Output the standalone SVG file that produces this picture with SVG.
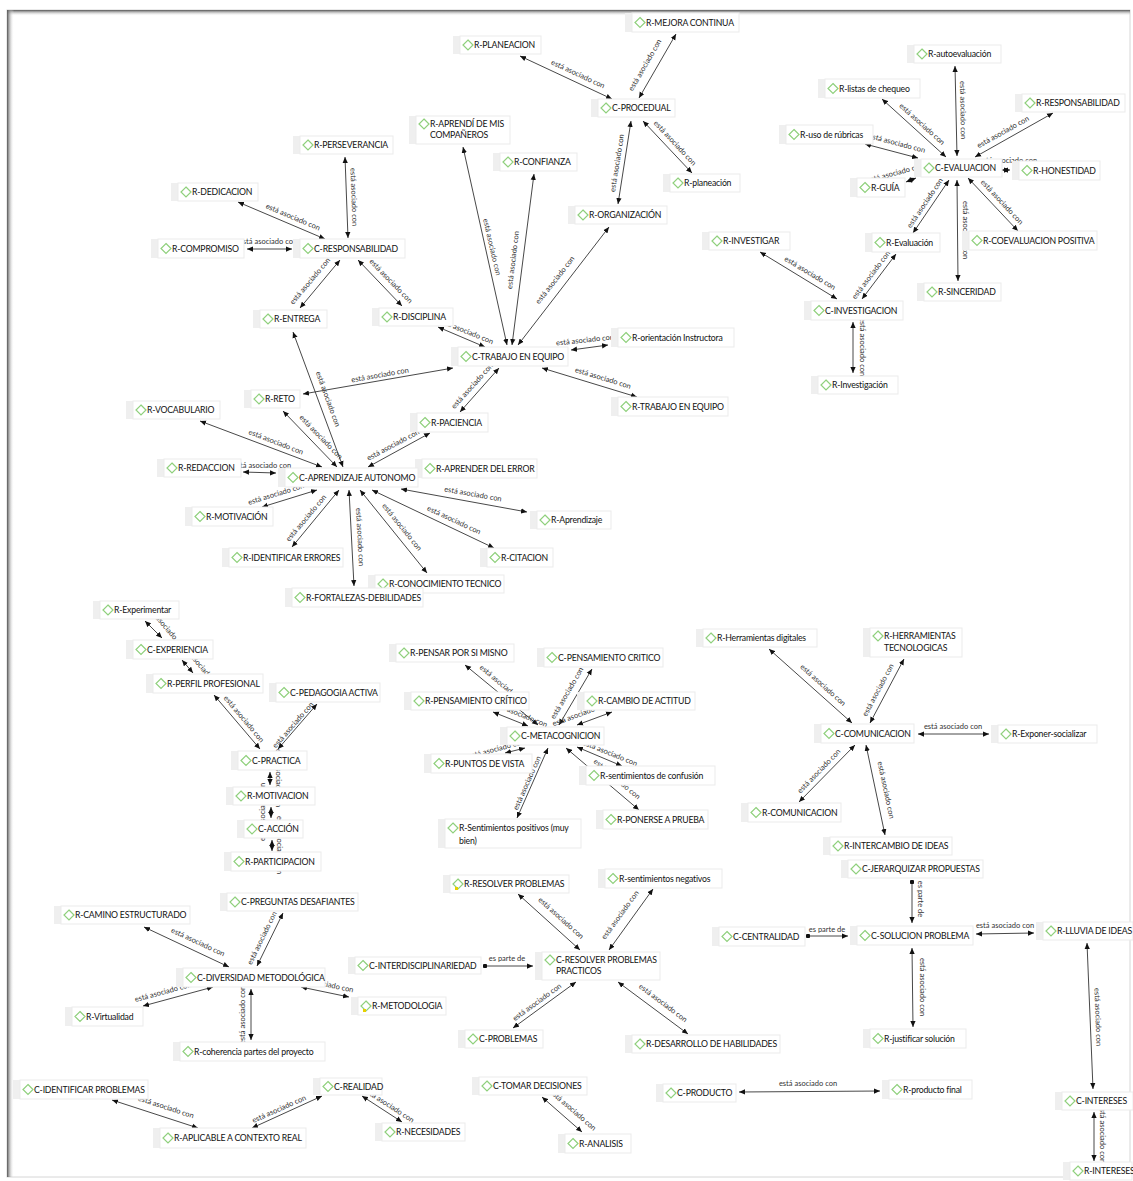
<svg xmlns="http://www.w3.org/2000/svg" xmlns:xlink="http://www.w3.org/1999/xlink" width="1133" height="1181" viewBox="0 0 1133 1181">
<defs>
<linearGradient id="gt" x1="0" y1="0" x2="0" y2="1"><stop offset="0" stop-color="#555"/><stop offset="1" stop-color="#fff" stop-opacity="0"/></linearGradient>
<linearGradient id="gl" x1="0" y1="0" x2="1" y2="0"><stop offset="0" stop-color="#555"/><stop offset="1" stop-color="#fff" stop-opacity="0"/></linearGradient>
<marker id="a" viewBox="0 0 8 8" refX="8" refY="4" markerWidth="6" markerHeight="6" markerUnits="userSpaceOnUse" orient="auto-start-reverse"><path d="M0,0.5 L8,4 L0,7.5 Z" fill="#111"/></marker>
<marker id="o" viewBox="0 0 6 6" refX="3" refY="3" markerWidth="4.5" markerHeight="4.5" markerUnits="userSpaceOnUse"><circle cx="3" cy="3" r="3" fill="#111"/></marker>
<path id="d" d="M0,-5 L5,0 L0,5 L-5,0 Z" fill="#fff" stroke="#8fd07c" stroke-width="1.2"/>
</defs>
<style>
.s{fill:#efefef}
.b{fill:#fff;stroke:#ebebeb;stroke-width:1}
.node text{font-family:Lato,"Open Sans",sans-serif;font-size:8.7px;letter-spacing:-0.2px;fill:#111}
.c{stroke:#333;stroke-width:0.9;fill:none;marker-start:url(#a);marker-end:url(#a)}
.p{stroke:#333;stroke-width:0.9;fill:none;marker-start:url(#o);marker-end:url(#a)}
.l{font-family:Lato,"Open Sans",sans-serif;font-size:7.5px;fill:#333;text-anchor:middle;dominant-baseline:central}
.y{fill:#e8d000}
</style>
<rect width="1133" height="1181" fill="#fff"/>
<g id="frame">
<rect x="7" y="10" width="1123" height="1167" fill="#fff" stroke="#d6d6d6"/>
<rect x="7" y="10" width="1123" height="6" fill="url(#gt)"/>
<rect x="7" y="10" width="7" height="1167" fill="url(#gl)"/>
</g>
<g id="connectors">
<line class="c" x1="520" y1="56" x2="612" y2="99"/><text class="l" transform="translate(578,74) rotate(25)">está asociado con</text>
<line class="c" x1="676" y1="34" x2="639" y2="98"/><text class="l" transform="translate(645,65) rotate(-60)">está asociado con</text>
<line class="c" x1="631" y1="121" x2="618" y2="204"/><text class="l" transform="translate(617,163) rotate(-81)">está asociado con</text>
<line class="c" x1="643" y1="121" x2="692" y2="173"/><text class="l" transform="translate(675,143) rotate(47)">está asociado con</text>
<line class="c" x1="463" y1="147" x2="507" y2="345"/><text class="l" transform="translate(492,247) rotate(77)">está asociado con</text>
<line class="c" x1="534" y1="174" x2="512" y2="345"/><text class="l" transform="translate(513,260) rotate(-83)">está asociado con</text>
<line class="c" x1="609" y1="227" x2="518" y2="345"/><text class="l" transform="translate(555,280) rotate(-52)">está asociado con</text>
<line class="c" x1="345" y1="157" x2="348" y2="238"/><text class="l" transform="translate(354,197) rotate(88)">está asociado con</text>
<line class="c" x1="238" y1="202" x2="325" y2="239"/><text class="l" transform="translate(293,217) rotate(23)">está asociado con</text>
<line class="c" x1="247" y1="249" x2="292" y2="249"/><text class="l" transform="translate(268,241)">está asociado con</text>
<line class="c" x1="340" y1="260" x2="300" y2="308"/><text class="l" transform="translate(310,281) rotate(-50)">está asociado con</text>
<line class="c" x1="358" y1="260" x2="402" y2="306"/><text class="l" transform="translate(391,281) rotate(46)">está asociado con</text>
<line class="c" x1="438" y1="327" x2="485" y2="347"/><text class="l" transform="translate(466,331) rotate(22)">está asociado con</text>
<line class="c" x1="293" y1="332" x2="343" y2="467"/><text class="l" transform="translate(328,399) rotate(70)">está asociado con</text>
<line class="c" x1="453" y1="368" x2="303" y2="394"/><text class="l" transform="translate(380,375) rotate(-10)">está asociado con</text>
<line class="c" x1="499" y1="368" x2="460" y2="412"/><text class="l" transform="translate(472,386) rotate(-48)">está asociado con</text>
<line class="c" x1="571" y1="350" x2="608" y2="345"/><text class="l" transform="translate(585,340) rotate(-6)">está asociado con</text>
<line class="c" x1="542" y1="368" x2="637" y2="397"/><text class="l" transform="translate(603,378) rotate(17)">está asociado con</text>
<line class="c" x1="283" y1="411" x2="337" y2="467"/><text class="l" transform="translate(321,437) rotate(46)">está asociado con</text>
<line class="c" x1="200" y1="421" x2="322" y2="467"/><text class="l" transform="translate(276,442) rotate(21)">está asociado con</text>
<line class="c" x1="243" y1="472" x2="276" y2="473"/><text class="l" transform="translate(262,465)">está asociado con</text>
<line class="c" x1="368" y1="467" x2="430" y2="433"/><text class="l" transform="translate(393,445) rotate(-28)">está asociado con</text>
<line class="c" x1="262" y1="507" x2="317" y2="490"/><text class="l" transform="translate(276,494) rotate(-17)">está asociado con</text>
<line class="c" x1="292" y1="547" x2="339" y2="490"/><text class="l" transform="translate(306,518) rotate(-50)">está asociado con</text>
<line class="c" x1="349" y1="490" x2="354" y2="586"/><text class="l" transform="translate(360,537) rotate(87)">está asociado con</text>
<line class="c" x1="360" y1="490" x2="427" y2="573"/><text class="l" transform="translate(402,527) rotate(51)">está asociado con</text>
<line class="c" x1="372" y1="490" x2="494" y2="548"/><text class="l" transform="translate(454,520) rotate(25)">está asociado con</text>
<line class="c" x1="401" y1="489" x2="527" y2="512"/><text class="l" transform="translate(473,494) rotate(10)">está asociado con</text>
<line class="c" x1="955" y1="66" x2="957" y2="156"/><text class="l" transform="translate(963,110) rotate(89)">está asociado con</text>
<line class="c" x1="882" y1="99" x2="946" y2="157"/><text class="l" transform="translate(922,124) rotate(42)">está asociado con</text>
<line class="c" x1="1053" y1="113" x2="975" y2="157"/><text class="l" transform="translate(1003,132) rotate(-29)">está asociado con</text>
<line class="c" x1="865" y1="144" x2="918" y2="158"/><text class="l" transform="translate(897,143) rotate(15)">está asociado con</text>
<line class="c" x1="1002" y1="170" x2="1010" y2="170"/><text class="l" transform="translate(1008,160)">está asociado con</text>
<line class="c" x1="906" y1="182" x2="916" y2="178"/><text class="l" transform="translate(895,173) rotate(-15)">está asociado con</text>
<line class="c" x1="949" y1="180" x2="913" y2="233"/><text class="l" transform="translate(925,203) rotate(-56)">está asociado con</text>
<line class="c" x1="957" y1="180" x2="958" y2="281"/><text class="l" transform="translate(965,230) rotate(90)">está asociado con</text>
<line class="c" x1="968" y1="178" x2="1018" y2="231"/><text class="l" transform="translate(1002,202) rotate(47)">está asociado con</text>
<line class="c" x1="760" y1="252" x2="837" y2="299"/><text class="l" transform="translate(810,273) rotate(31)">está asociado con</text>
<line class="c" x1="896" y1="254" x2="862" y2="299"/><text class="l" transform="translate(871,275) rotate(-53)">está asociado con</text>
<line class="c" x1="853" y1="322" x2="853" y2="373"/><text class="l" transform="translate(862,347) rotate(90)">está asociado con</text>
<line class="c" x1="145" y1="621" x2="162" y2="638"/><text class="l" transform="translate(166,627) rotate(50)">está asociado con</text>
<line class="c" x1="182" y1="660" x2="193" y2="673"/><text class="l" transform="translate(201,666) rotate(50)">está asociado con</text>
<line class="c" x1="214" y1="695" x2="260" y2="749"/><text class="l" transform="translate(244,719) rotate(50)">está asociado con</text>
<line class="c" x1="317" y1="704" x2="278" y2="749"/><text class="l" transform="translate(293,725) rotate(-49)">está asociado con</text>
<line class="c" x1="270" y1="772" x2="270" y2="785"/><text class="l" transform="translate(278,778) rotate(90)">está asociado con</text>
<line class="c" x1="271" y1="807" x2="271" y2="818"/><text class="l" transform="translate(262,812) rotate(-90)">está asociado con</text>
<line class="c" x1="272" y1="840" x2="272" y2="851"/><text class="l" transform="translate(279,845) rotate(90)">está asociado con</text>
<line class="c" x1="465" y1="665" x2="538" y2="725"/><text class="l" transform="translate(503,685) rotate(40)">está asociado con</text>
<line class="c" x1="493" y1="712" x2="528" y2="726"/><text class="l" transform="translate(520,714) rotate(22)">está asociado con</text>
<line class="c" x1="592" y1="669" x2="559" y2="725"/><text class="l" transform="translate(567,693) rotate(-60)">está asociado con</text>
<line class="c" x1="612" y1="712" x2="577" y2="725"/><text class="l" transform="translate(580,714) rotate(-20)">está asociado con</text>
<line class="c" x1="505" y1="753" x2="525" y2="748"/><text class="l" transform="translate(496,749) rotate(-15)">está asociado con</text>
<line class="c" x1="548" y1="748" x2="517" y2="818"/><text class="l" transform="translate(527,783) rotate(-66)">está asociado con</text>
<line class="c" x1="577" y1="747" x2="622" y2="766"/><text class="l" transform="translate(610,753) rotate(22)">está asociado con</text>
<line class="c" x1="566" y1="748" x2="639" y2="810"/><text class="l" transform="translate(617,779) rotate(40)">está asociado con</text>
<line class="c" x1="769" y1="649" x2="852" y2="723"/><text class="l" transform="translate(823,685) rotate(42)">está asociado con</text>
<line class="c" x1="904" y1="659" x2="870" y2="723"/><text class="l" transform="translate(878,690) rotate(-62)">está asociado con</text>
<line class="c" x1="918" y1="734" x2="989" y2="734"/><text class="l" transform="translate(953,726)">está asociado con</text>
<line class="c" x1="855" y1="745" x2="799" y2="802"/><text class="l" transform="translate(819,771) rotate(-46)">está asociado con</text>
<line class="c" x1="866" y1="745" x2="885" y2="835"/><text class="l" transform="translate(886,790) rotate(78)">está asociado con</text>
<line class="p" x1="912" y1="882" x2="912" y2="923"/><text class="l" transform="translate(920,899) rotate(90)">es parte de</text>
<line class="p" x1="808" y1="936" x2="848" y2="936"/><text class="l" transform="translate(827,929)">es parte de</text>
<line class="c" x1="976" y1="934" x2="1034" y2="933"/><text class="l" transform="translate(1005,925)">está asociado con</text>
<line class="c" x1="912" y1="948" x2="913" y2="1027"/><text class="l" transform="translate(922,987) rotate(90)">está asociado con</text>
<line class="c" x1="1087" y1="943" x2="1093" y2="1089"/><text class="l" transform="translate(1098,1017) rotate(88)">está asociado con</text>
<line class="c" x1="1094" y1="1112" x2="1094" y2="1161"/><text class="l" transform="translate(1102,1134) rotate(90)">está asociado con</text>
<line class="c" x1="739" y1="1092" x2="880" y2="1091"/><text class="l" transform="translate(808,1083)">está asociado con</text>
<line class="c" x1="518" y1="894" x2="580" y2="950"/><text class="l" transform="translate(561,918) rotate(42)">está asociado con</text>
<line class="c" x1="653" y1="889" x2="609" y2="950"/><text class="l" transform="translate(620,915) rotate(-54)">está asociado con</text>
<line class="p" x1="485" y1="966" x2="533" y2="966"/><text class="l" transform="translate(507,958)">es parte de</text>
<line class="c" x1="576" y1="982" x2="513" y2="1028"/><text class="l" transform="translate(537,1002) rotate(-36)">está asociado con</text>
<line class="c" x1="618" y1="982" x2="688" y2="1034"/><text class="l" transform="translate(663,1003) rotate(37)">está asociado con</text>
<line class="c" x1="542" y1="1097" x2="582" y2="1132"/><text class="l" transform="translate(573,1110) rotate(41)">está asociado con</text>
<line class="c" x1="144" y1="927" x2="229" y2="967"/><text class="l" transform="translate(198,942) rotate(25)">está asociado con</text>
<line class="c" x1="283" y1="913" x2="257" y2="966"/><text class="l" transform="translate(262,938) rotate(-64)">está asociado con</text>
<line class="c" x1="213" y1="987" x2="143" y2="1006"/><text class="l" transform="translate(163,992) rotate(-15)">está asociado con</text>
<line class="c" x1="251" y1="989" x2="251" y2="1040"/><text class="l" transform="translate(242,1015) rotate(-90)">está asociado con</text>
<line class="c" x1="301" y1="987" x2="349" y2="997"/><text class="l" transform="translate(325,984) rotate(12)">está asociado con</text>
<line class="c" x1="112" y1="1100" x2="198" y2="1128"/><text class="l" transform="translate(166,1107) rotate(18)">está asociado con</text>
<line class="c" x1="252" y1="1128" x2="322" y2="1096"/><text class="l" transform="translate(279,1109) rotate(-24)">está asociado con</text>
<line class="c" x1="362" y1="1096" x2="402" y2="1122"/><text class="l" transform="translate(389,1105) rotate(33)">está asociado con</text>
</g>
<g id="nodes">
<g id="n1" class="node" transform="translate(625,13)"><rect class="s" width="7" height="19"/><rect class="b" x="7" width="107" height="19"/><use href="#d" x="15" y="9.5"/><text x="21" y="12.7">R-MEJORA CONTINUA</text></g>
<g id="n2" class="node" transform="translate(453,36)"><rect class="s" width="7" height="18"/><rect class="b" x="7" width="81" height="18"/><use href="#d" x="15" y="9"/><text x="21" y="12.2">R-PLANEACION</text></g>
<g id="n3" class="node" transform="translate(591,99)"><rect class="s" width="7" height="18"/><rect class="b" x="7" width="77" height="18"/><use href="#d" x="15" y="9"/><text x="21" y="12.2">C-PROCEDUAL</text></g>
<g id="n4" class="node" transform="translate(409,116)"><rect class="s" width="7" height="28"/><rect class="b" x="7" width="94" height="28"/><use href="#d" x="15" y="8"/><text x="21" y="11.2">R-APRENDÍ DE MIS</text><text x="21" y="22.2">COMPAÑEROS</text></g>
<g id="n5" class="node" transform="translate(493,153)"><rect class="s" width="7" height="18"/><rect class="b" x="7" width="77" height="18"/><use href="#d" x="15" y="9"/><text x="21" y="12.2">R-CONFIANZA</text></g>
<g id="n6" class="node" transform="translate(663,174)"><rect class="s" width="7" height="18"/><rect class="b" x="7" width="70" height="18"/><use href="#d" x="15" y="9"/><text x="21" y="12.2">R-planeación</text></g>
<g id="n7" class="node" transform="translate(568,206)"><rect class="s" width="7" height="18"/><rect class="b" x="7" width="92" height="18"/><use href="#d" x="15" y="9"/><text x="21" y="12.2">R-ORGANIZACIÓN</text></g>
<g id="n8" class="node" transform="translate(293,136)"><rect class="s" width="7" height="18"/><rect class="b" x="7" width="93" height="18"/><use href="#d" x="15" y="9"/><text x="21" y="12.2">R-PERSEVERANCIA</text></g>
<g id="n9" class="node" transform="translate(171,183)"><rect class="s" width="7" height="18"/><rect class="b" x="7" width="80" height="18"/><use href="#d" x="15" y="9"/><text x="21" y="12.2">R-DEDICACION</text></g>
<g id="n10" class="node" transform="translate(151,239)"><rect class="s" width="7" height="19"/><rect class="b" x="7" width="86" height="19"/><use href="#d" x="15" y="9.5"/><text x="21" y="12.7">R-COMPROMISO</text></g>
<g id="n11" class="node" transform="translate(293,239)"><rect class="s" width="7" height="19"/><rect class="b" x="7" width="105" height="19"/><use href="#d" x="15" y="9.5"/><text x="21" y="12.7">C-RESPONSABILIDAD</text></g>
<g id="n12" class="node" transform="translate(253,310)"><rect class="s" width="7" height="18"/><rect class="b" x="7" width="67" height="18"/><use href="#d" x="15" y="9"/><text x="21" y="12.2">R-ENTREGA</text></g>
<g id="n13" class="node" transform="translate(372,308)"><rect class="s" width="7" height="18"/><rect class="b" x="7" width="74" height="18"/><use href="#d" x="15" y="9"/><text x="21" y="12.2">R-DISCIPLINA</text></g>
<g id="n14" class="node" transform="translate(451,347)"><rect class="s" width="7" height="19"/><rect class="b" x="7" width="110" height="19"/><use href="#d" x="15" y="9.5"/><text x="21" y="12.7">C-TRABAJO EN EQUIPO</text></g>
<g id="n15" class="node" transform="translate(611,328)"><rect class="s" width="7" height="19"/><rect class="b" x="7" width="116" height="19"/><use href="#d" x="15" y="9.5"/><text x="21" y="12.7">R-orientación Instructora</text></g>
<g id="n16" class="node" transform="translate(611,397)"><rect class="s" width="7" height="19"/><rect class="b" x="7" width="110" height="19"/><use href="#d" x="15" y="9.5"/><text x="21" y="12.7">R-TRABAJO EN EQUIPO</text></g>
<g id="n17" class="node" transform="translate(244,390)"><rect class="s" width="7" height="18"/><rect class="b" x="7" width="49" height="18"/><use href="#d" x="15" y="9"/><text x="21" y="12.2">R-RETO</text></g>
<g id="n18" class="node" transform="translate(126,401)"><rect class="s" width="7" height="18"/><rect class="b" x="7" width="87" height="18"/><use href="#d" x="15" y="9"/><text x="21" y="12.2">R-VOCABULARIO</text></g>
<g id="n19" class="node" transform="translate(410,413)"><rect class="s" width="7" height="19"/><rect class="b" x="7" width="71" height="19"/><use href="#d" x="15" y="9.5"/><text x="21" y="12.7">R-PACIENCIA</text></g>
<g id="n20" class="node" transform="translate(157,459)"><rect class="s" width="7" height="18"/><rect class="b" x="7" width="77" height="18"/><use href="#d" x="15" y="9"/><text x="21" y="12.2">R-REDACCION</text></g>
<g id="n22" class="node" transform="translate(415,459)"><rect class="s" width="7" height="19"/><rect class="b" x="7" width="115" height="19"/><use href="#d" x="15" y="9.5"/><text x="21" y="12.7">R-APRENDER DEL ERROR</text></g>
<g id="n21" class="node" transform="translate(278,468)"><rect class="s" width="7" height="19"/><rect class="b" x="7" width="133" height="19"/><use href="#d" x="15" y="9.5"/><text x="21" y="12.7">C-APRENDIZAJE AUTONOMO</text></g>
<g id="n23" class="node" transform="translate(530,511)"><rect class="s" width="7" height="18"/><rect class="b" x="7" width="74" height="18"/><use href="#d" x="15" y="9"/><text x="21" y="12.2">R-Aprendizaje</text></g>
<g id="n24" class="node" transform="translate(185,507)"><rect class="s" width="7" height="19"/><rect class="b" x="7" width="81" height="19"/><use href="#d" x="15" y="9.5"/><text x="21" y="12.7">R-MOTIVACIÓN</text></g>
<g id="n25" class="node" transform="translate(222,548)"><rect class="s" width="7" height="19"/><rect class="b" x="7" width="114" height="19"/><use href="#d" x="15" y="9.5"/><text x="21" y="12.7">R-IDENTIFICAR ERRORES</text></g>
<g id="n26" class="node" transform="translate(480,548)"><rect class="s" width="7" height="19"/><rect class="b" x="7" width="66" height="19"/><use href="#d" x="15" y="9.5"/><text x="21" y="12.7">R-CITACION</text></g>
<g id="n27" class="node" transform="translate(368,575)"><rect class="s" width="7" height="18"/><rect class="b" x="7" width="129" height="18"/><use href="#d" x="15" y="9"/><text x="21" y="12.2">R-CONOCIMIENTO TECNICO</text></g>
<g id="n28" class="node" transform="translate(285,588)"><rect class="s" width="7" height="19"/><rect class="b" x="7" width="131" height="19"/><use href="#d" x="15" y="9.5"/><text x="21" y="12.7">R-FORTALEZAS-DEBILIDADES</text></g>
<g id="n29" class="node" transform="translate(907,45)"><rect class="s" width="7" height="18"/><rect class="b" x="7" width="87" height="18"/><use href="#d" x="15" y="9"/><text x="21" y="12.2">R-autoevaluación</text></g>
<g id="n30" class="node" transform="translate(818,79)"><rect class="s" width="7" height="19"/><rect class="b" x="7" width="95" height="19"/><use href="#d" x="15" y="9.5"/><text x="21" y="12.7">R-listas de chequeo</text></g>
<g id="n31" class="node" transform="translate(1015,94)"><rect class="s" width="7" height="18"/><rect class="b" x="7" width="103" height="18"/><use href="#d" x="15" y="9"/><text x="21" y="12.2">R-RESPONSABILIDAD</text></g>
<g id="n32" class="node" transform="translate(779,125)"><rect class="s" width="7" height="19"/><rect class="b" x="7" width="87" height="19"/><use href="#d" x="15" y="9.5"/><text x="21" y="12.7">R-uso de rúbricas</text></g>
<g id="n33" class="node" transform="translate(914,159)"><rect class="s" width="7" height="18"/><rect class="b" x="7" width="81" height="18"/><use href="#d" x="15" y="9"/><text x="21" y="12.2">C-EVALUACION</text></g>
<g id="n34" class="node" transform="translate(1012,161)"><rect class="s" width="7" height="19"/><rect class="b" x="7" width="81" height="19"/><use href="#d" x="15" y="9.5"/><text x="21" y="12.7">R-HONESTIDAD</text></g>
<g id="n35" class="node" transform="translate(850,178)"><rect class="s" width="7" height="19"/><rect class="b" x="7" width="48" height="19"/><use href="#d" x="15" y="9.5"/><text x="21" y="12.7">R-GUÍA</text></g>
<g id="n36" class="node" transform="translate(702,232)"><rect class="s" width="7" height="18"/><rect class="b" x="7" width="81" height="18"/><use href="#d" x="15" y="9"/><text x="21" y="12.2">R-INVESTIGAR</text></g>
<g id="n37" class="node" transform="translate(865,233)"><rect class="s" width="7" height="19"/><rect class="b" x="7" width="68" height="19"/><use href="#d" x="15" y="9.5"/><text x="21" y="12.7">R-Evaluación</text></g>
<g id="n38" class="node" transform="translate(962,231)"><rect class="s" width="7" height="19"/><rect class="b" x="7" width="128" height="19"/><use href="#d" x="15" y="9.5"/><text x="21" y="12.7">R-COEVALUACION POSITIVA</text></g>
<g id="n39" class="node" transform="translate(917,283)"><rect class="s" width="7" height="18"/><rect class="b" x="7" width="77" height="18"/><use href="#d" x="15" y="9"/><text x="21" y="12.2">R-SINCERIDAD</text></g>
<g id="n40" class="node" transform="translate(804,301)"><rect class="s" width="7" height="19"/><rect class="b" x="7" width="92" height="19"/><use href="#d" x="15" y="9.5"/><text x="21" y="12.7">C-INVESTIGACION</text></g>
<g id="n41" class="node" transform="translate(811,376)"><rect class="s" width="7" height="18"/><rect class="b" x="7" width="80" height="18"/><use href="#d" x="15" y="9"/><text x="21" y="12.2">R-Investigación</text></g>
<g id="n42" class="node" transform="translate(93,601)"><rect class="s" width="7" height="18"/><rect class="b" x="7" width="79" height="18"/><use href="#d" x="15" y="9"/><text x="21" y="12.2">R-Experimentar</text></g>
<g id="n43" class="node" transform="translate(126,640)"><rect class="s" width="7" height="19"/><rect class="b" x="7" width="80" height="19"/><use href="#d" x="15" y="9.5"/><text x="21" y="12.7">C-EXPERIENCIA</text></g>
<g id="n44" class="node" transform="translate(146,674)"><rect class="s" width="7" height="19"/><rect class="b" x="7" width="110" height="19"/><use href="#d" x="15" y="9.5"/><text x="21" y="12.7">R-PERFIL PROFESIONAL</text></g>
<g id="n45" class="node" transform="translate(269,683)"><rect class="s" width="7" height="19"/><rect class="b" x="7" width="104" height="19"/><use href="#d" x="15" y="9.5"/><text x="21" y="12.7">C-PEDAGOGIA ACTIVA</text></g>
<g id="n46" class="node" transform="translate(231,751)"><rect class="s" width="7" height="19"/><rect class="b" x="7" width="69" height="19"/><use href="#d" x="15" y="9.5"/><text x="21" y="12.7">C-PRACTICA</text></g>
<g id="n47" class="node" transform="translate(226,787)"><rect class="s" width="7" height="18"/><rect class="b" x="7" width="82" height="18"/><use href="#d" x="15" y="9"/><text x="21" y="12.2">R-MOTIVACION</text></g>
<g id="n48" class="node" transform="translate(237,820)"><rect class="s" width="7" height="18"/><rect class="b" x="7" width="59" height="18"/><use href="#d" x="15" y="9"/><text x="21" y="12.2">C-ACCIÓN</text></g>
<g id="n49" class="node" transform="translate(224,852)"><rect class="s" width="7" height="19"/><rect class="b" x="7" width="90" height="19"/><use href="#d" x="15" y="9.5"/><text x="21" y="12.7">R-PARTICIPACION</text></g>
<g id="n50" class="node" transform="translate(389,644)"><rect class="s" width="7" height="18"/><rect class="b" x="7" width="118" height="18"/><use href="#d" x="15" y="9"/><text x="21" y="12.2">R-PENSAR POR SI MISNO</text></g>
<g id="n51" class="node" transform="translate(537,648)"><rect class="s" width="7" height="19"/><rect class="b" x="7" width="119" height="19"/><use href="#d" x="15" y="9.5"/><text x="21" y="12.7">C-PENSAMIENTO CRITICO</text></g>
<g id="n52" class="node" transform="translate(404,692)"><rect class="s" width="7" height="18"/><rect class="b" x="7" width="118" height="18"/><use href="#d" x="15" y="9"/><text x="21" y="12.2">R-PENSAMIENTO CRÍTICO</text></g>
<g id="n53" class="node" transform="translate(577,692)"><rect class="s" width="7" height="18"/><rect class="b" x="7" width="111" height="18"/><use href="#d" x="15" y="9"/><text x="21" y="12.2">R-CAMBIO DE ACTITUD</text></g>
<g id="n54" class="node" transform="translate(500,727)"><rect class="s" width="7" height="18"/><rect class="b" x="7" width="97" height="18"/><use href="#d" x="15" y="9"/><text x="21" y="12.2">C-METACOGNICION</text></g>
<g id="n55" class="node" transform="translate(424,754)"><rect class="s" width="7" height="19"/><rect class="b" x="7" width="101" height="19"/><use href="#d" x="15" y="9.5"/><text x="21" y="12.7">R-PUNTOS DE VISTA</text></g>
<g id="n56" class="node" transform="translate(579,766)"><rect class="s" width="7" height="19"/><rect class="b" x="7" width="129" height="19"/><use href="#d" x="15" y="9.5"/><text x="21" y="12.7">R-sentimientos de confusión</text></g>
<g id="n57" class="node" transform="translate(596,810)"><rect class="s" width="7" height="19"/><rect class="b" x="7" width="105" height="19"/><use href="#d" x="15" y="9.5"/><text x="21" y="12.7">R-PONERSE A PRUEBA</text></g>
<g id="n58" class="node" transform="translate(438,819)"><rect class="s" width="7" height="29"/><rect class="b" x="7" width="136" height="29"/><use href="#d" x="15" y="9"/><text x="21" y="12.2">R-Sentimientos positivos (muy</text><text x="21" y="25.2">bien)</text></g>
<g id="n59" class="node" transform="translate(696,629)"><rect class="s" width="7" height="18"/><rect class="b" x="7" width="114" height="18"/><use href="#d" x="15" y="9"/><text x="21" y="12.2">R-Herramientas digitales</text></g>
<g id="n60" class="node" transform="translate(863,628)"><rect class="s" width="7" height="29"/><rect class="b" x="7" width="92" height="29"/><use href="#d" x="15" y="8"/><text x="21" y="11.2">R-HERRAMIENTAS</text><text x="21" y="23.2">TECNOLOGICAS</text></g>
<g id="n61" class="node" transform="translate(814,724)"><rect class="s" width="7" height="19"/><rect class="b" x="7" width="93" height="19"/><use href="#d" x="15" y="9.5"/><text x="21" y="12.7">C-COMUNICACION</text></g>
<g id="n62" class="node" transform="translate(991,725)"><rect class="s" width="7" height="18"/><rect class="b" x="7" width="99" height="18"/><use href="#d" x="15" y="9"/><text x="21" y="12.2">R-Exponer-socializar</text></g>
<g id="n63" class="node" transform="translate(741,803)"><rect class="s" width="7" height="19"/><rect class="b" x="7" width="93" height="19"/><use href="#d" x="15" y="9.5"/><text x="21" y="12.7">R-COMUNICACION</text></g>
<g id="n64" class="node" transform="translate(823,837)"><rect class="s" width="7" height="18"/><rect class="b" x="7" width="122" height="18"/><use href="#d" x="15" y="9"/><text x="21" y="12.2">R-INTERCAMBIO DE IDEAS</text></g>
<g id="n65" class="node" transform="translate(841,860)"><rect class="s" width="7" height="18"/><rect class="b" x="7" width="135" height="18"/><use href="#d" x="15" y="9"/><text x="21" y="12.2">C-JERARQUIZAR PROPUESTAS</text></g>
<g id="n66" class="node" transform="translate(712,927)"><rect class="s" width="7" height="19"/><rect class="b" x="7" width="86" height="19"/><use href="#d" x="15" y="9.5"/><text x="21" y="12.7">C-CENTRALIDAD</text></g>
<g id="n67" class="node" transform="translate(850,926)"><rect class="s" width="7" height="19"/><rect class="b" x="7" width="116" height="19"/><use href="#d" x="15" y="9.5"/><text x="21" y="12.7">C-SOLUCION PROBLEMA</text></g>
<g id="n68" class="node" transform="translate(1036,922)"><rect class="s" width="7" height="18"/><rect class="b" x="7" width="90" height="18"/><use href="#d" x="15" y="9"/><text x="21" y="12.2">R-LLUVIA DE IDEAS</text></g>
<g id="n69" class="node" transform="translate(863,1029)"><rect class="s" width="7" height="19"/><rect class="b" x="7" width="96" height="19"/><use href="#d" x="15" y="9.5"/><text x="21" y="12.7">R-justificar solución</text></g>
<g id="n70" class="node" transform="translate(882,1080)"><rect class="s" width="7" height="19"/><rect class="b" x="7" width="83" height="19"/><use href="#d" x="15" y="9.5"/><text x="21" y="12.7">R-producto final</text></g>
<g id="n71" class="node" transform="translate(1055,1092)"><rect class="s" width="7" height="18"/><rect class="b" x="7" width="71" height="18"/><use href="#d" x="15" y="9"/><text x="21" y="12.2">C-INTERESES</text></g>
<g id="n72" class="node" transform="translate(1063,1162)"><rect class="s" width="7" height="18"/><rect class="b" x="7" width="62" height="18"/><use href="#d" x="15" y="9"/><text x="21" y="12.2">R-INTERESES</text></g>
<g id="n73" class="node" transform="translate(443,875)"><rect class="s" width="7" height="18"/><rect class="b" x="7" width="119" height="18"/><use href="#d" x="15" y="9"/><rect class="y" x="12" y="12" width="3" height="3"/><text x="21" y="12.2">R-RESOLVER PROBLEMAS</text></g>
<g id="n74" class="node" transform="translate(598,869)"><rect class="s" width="7" height="19"/><rect class="b" x="7" width="117" height="19"/><use href="#d" x="15" y="9.5"/><text x="21" y="12.7">R-sentimientos negativos</text></g>
<g id="n75" class="node" transform="translate(348,957)"><rect class="s" width="7" height="17"/><rect class="b" x="7" width="126" height="17"/><use href="#d" x="15" y="8.5"/><text x="21" y="11.7">C-INTERDISCIPLINARIEDAD</text></g>
<g id="n76" class="node" transform="translate(535,952)"><rect class="s" width="7" height="28"/><rect class="b" x="7" width="118" height="28"/><use href="#d" x="15" y="8"/><text x="21" y="11.2">C-RESOLVER PROBLEMAS</text><text x="21" y="22.2">PRACTICOS</text></g>
<g id="n77" class="node" transform="translate(351,997)"><rect class="s" width="7" height="18"/><rect class="b" x="7" width="88" height="18"/><use href="#d" x="15" y="9"/><rect class="y" x="12" y="12" width="3" height="3"/><text x="21" y="12.2">R-METODOLOGIA</text></g>
<g id="n78" class="node" transform="translate(458,1030)"><rect class="s" width="7" height="18"/><rect class="b" x="7" width="78" height="18"/><use href="#d" x="15" y="9"/><text x="21" y="12.2">C-PROBLEMAS</text></g>
<g id="n79" class="node" transform="translate(625,1035)"><rect class="s" width="7" height="18"/><rect class="b" x="7" width="148" height="18"/><use href="#d" x="15" y="9"/><text x="21" y="12.2">R-DESARROLLO DE HABILIDADES</text></g>
<g id="n80" class="node" transform="translate(472,1077)"><rect class="s" width="7" height="18"/><rect class="b" x="7" width="108" height="18"/><use href="#d" x="15" y="9"/><text x="21" y="12.2">C-TOMAR DECISIONES</text></g>
<g id="n81" class="node" transform="translate(558,1134)"><rect class="s" width="7" height="19"/><rect class="b" x="7" width="66" height="19"/><use href="#d" x="15" y="9.5"/><text x="21" y="12.7">R-ANALISIS</text></g>
<g id="n82" class="node" transform="translate(656,1084)"><rect class="s" width="7" height="18"/><rect class="b" x="7" width="73" height="18"/><use href="#d" x="15" y="9"/><text x="21" y="12.2">C-PRODUCTO</text></g>
<g id="n83" class="node" transform="translate(220,893)"><rect class="s" width="7" height="18"/><rect class="b" x="7" width="131" height="18"/><use href="#d" x="15" y="9"/><text x="21" y="12.2">C-PREGUNTAS DESAFIANTES</text></g>
<g id="n84" class="node" transform="translate(54,906)"><rect class="s" width="7" height="18"/><rect class="b" x="7" width="129" height="18"/><use href="#d" x="15" y="9"/><text x="21" y="12.2">R-CAMINO ESTRUCTURADO</text></g>
<g id="n85" class="node" transform="translate(176,968)"><rect class="s" width="7" height="19"/><rect class="b" x="7" width="142" height="19"/><use href="#d" x="15" y="9.5"/><text x="21" y="12.7">C-DIVERSIDAD METODOLÓGICA</text></g>
<g id="n86" class="node" transform="translate(65,1007)"><rect class="s" width="7" height="19"/><rect class="b" x="7" width="71" height="19"/><use href="#d" x="15" y="9.5"/><text x="21" y="12.7">R-Virtualidad</text></g>
<g id="n87" class="node" transform="translate(173,1042)"><rect class="s" width="7" height="19"/><rect class="b" x="7" width="145" height="19"/><use href="#d" x="15" y="9.5"/><text x="21" y="12.7">R-coherencia partes del proyecto</text></g>
<g id="n88" class="node" transform="translate(13,1080)"><rect class="s" width="7" height="19"/><rect class="b" x="7" width="128" height="19"/><use href="#d" x="15" y="9.5"/><text x="21" y="12.7">C-IDENTIFICAR PROBLEMAS</text></g>
<g id="n89" class="node" transform="translate(313,1078)"><rect class="s" width="7" height="17"/><rect class="b" x="7" width="62" height="17"/><use href="#d" x="15" y="8.5"/><text x="21" y="11.7">C-REALIDAD</text></g>
<g id="n90" class="node" transform="translate(153,1128)"><rect class="s" width="7" height="20"/><rect class="b" x="7" width="146" height="20"/><use href="#d" x="15" y="10"/><text x="21" y="13.2">R-APLICABLE A CONTEXTO REAL</text></g>
<g id="n91" class="node" transform="translate(375,1123)"><rect class="s" width="7" height="18"/><rect class="b" x="7" width="83" height="18"/><use href="#d" x="15" y="9"/><text x="21" y="12.2">R-NECESIDADES</text></g>
</g>
</svg>
